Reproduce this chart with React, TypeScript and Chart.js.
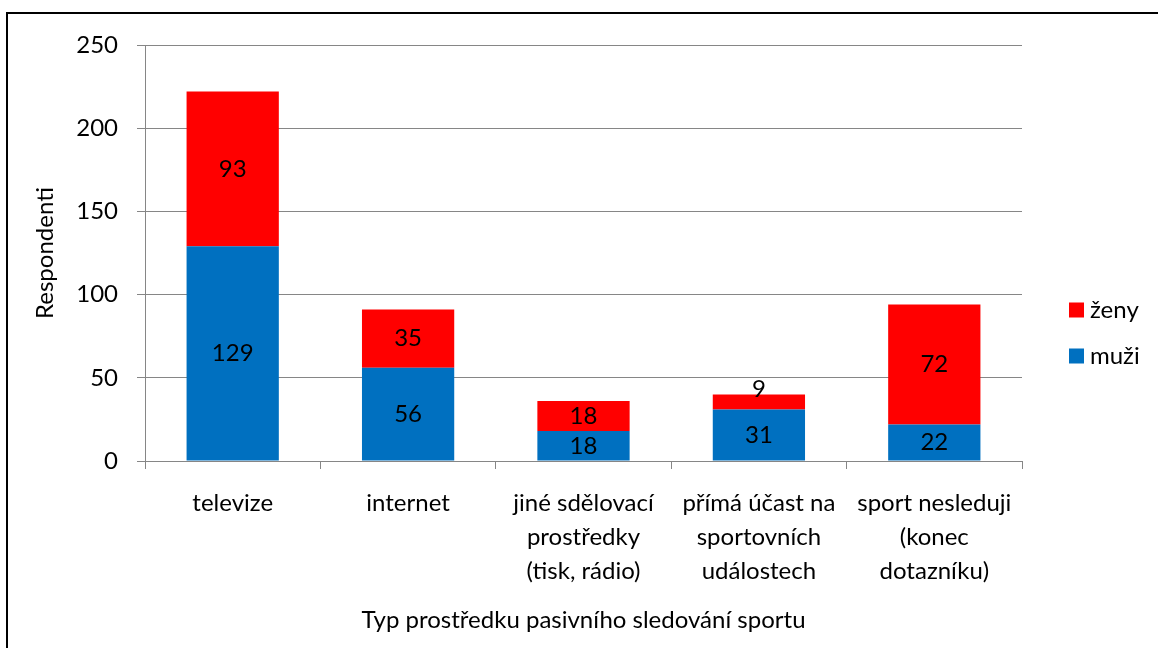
import React, { useEffect, useRef } from "react";
import { Chart, registerables } from "chart.js";

Chart.register(...registerables);

const categories: string[][] = [
  ["televize"],
  ["internet"],
  ["jiné sdělovací", "prostředky", "(tisk, rádio)"],
  ["přímá účast na", "sportovních", "událostech"],
  ["sport nesleduji", "(konec", "dotazníku)"],
];
const muzi: number[] = [129, 56, 18, 31, 22];
const zeny: number[] = [93, 35, 18, 9, 72];
const seriesNames = { muzi: "muži", zeny: "ženy" };
const yTitle = "Respondenti";
const xTitle = "Typ prostředku pasivního sledování sportu";

const FONT = "Lato, 'Open Sans', sans-serif";
const FS = 24;
const GRID = "#868686";

const labelPlugin = {
  id: "segLabels",
  afterDatasetsDraw(chart: any) {
    const ctx = chart.ctx;
    ctx.save();
    ctx.font = `${FS}px ${FONT}`;
    ctx.fillStyle = "#000";
    ctx.textAlign = "center";
    ctx.textBaseline = "middle";
    chart.data.datasets.forEach((ds: any, di: number) => {
      const meta = chart.getDatasetMeta(di);
      meta.data.forEach((bar: any, i: number) => {
        const v = ds.data[i];
        const h = Math.abs(bar.base - bar.y);
        // very short segments: label is pushed up so it sits over the top edge
        const cy = h < 20 ? bar.y - 5 : (bar.y + bar.base) / 2;
        ctx.fillText(String(v), bar.x, cy);
      });
    });
    ctx.restore();
  },
};

const legendPlugin = {
  id: "sideLegend",
  afterDraw(chart: any) {
    const ctx = chart.ctx;
    const area = chart.chartArea;
    const items = [...chart.data.datasets].reverse();
    const x0 = area.right + 47;
    const midY = (area.top + area.bottom) / 2 + 80;
    const gap = 46;
    ctx.save();
    ctx.font = `${FS}px ${FONT}`;
    ctx.textBaseline = "middle";
    ctx.textAlign = "left";
    items.forEach((ds: any, i: number) => {
      const cy = midY - gap / 2 + i * gap;
      ctx.fillStyle = ds.backgroundColor;
      ctx.fillRect(x0, cy - 7.5, 15, 15);
      ctx.fillStyle = "#000";
      ctx.fillText(ds.label, x0 + 21, cy);
    });
    ctx.restore();
  },
};

export default function App() {
  const ref = useRef<HTMLCanvasElement>(null);
  useEffect(() => {
    const canvas = ref.current!;
    const chart = new Chart(canvas, {
      type: "bar",
      data: {
        labels: categories,
        datasets: [
          {
            label: seriesNames.muzi,
            data: muzi,
            backgroundColor: "#0070C0",
            borderWidth: 0,
            categoryPercentage: 1,
            barPercentage: 0.526,
          },
          {
            label: seriesNames.zeny,
            data: zeny,
            backgroundColor: "#FF0000",
            borderWidth: 0,
            categoryPercentage: 1,
            barPercentage: 0.526,
          },
        ],
      },
      options: {
        responsive: false,
        animation: false,
        devicePixelRatio: 1,
        layout: { padding: { top: 45, right: 136, bottom: 0, left: 0 } },
        plugins: {
          legend: { display: false },
          tooltip: { enabled: false },
        },
        scales: {
          x: {
            stacked: true,
            offset: true,
            grid: {
              display: true,
              drawOnChartArea: false,
              drawTicks: true,
              tickLength: 8,
              offset: true,
              color: GRID,
            },
            border: { display: true, color: GRID },
            ticks: {
              color: "#000",
              font: { family: FONT, size: FS, lineHeight: 34 / FS },
              padding: 17,
              maxRotation: 0,
              autoSkip: false,
            },
            title: {
              display: true,
              text: xTitle,
              color: "#000",
              font: { family: FONT, size: FS, lineHeight: 1.2 },
              padding: { top: 0, bottom: 13 },
            },
            afterFit(scale: any) {
              scale.height = 187;
            },
          },
          y: {
            stacked: true,
            min: 0,
            max: 250,
            ticks: {
              stepSize: 50,
              color: "#000",
              font: { family: FONT, size: FS },
              padding: 19,
            },
            grid: { color: GRID, tickLength: 8, drawTicks: true },
            border: { display: true, color: GRID },
            title: {
              display: true,
              text: yTitle,
              color: "#000",
              font: { family: FONT, size: FS, lineHeight: 1.2 },
              padding: { top: 31, bottom: 0 },
            },
            afterFit(scale: any) {
              scale.width = 145;
            },
          },
        },
      },
      plugins: [labelPlugin, legendPlugin],
    });
    return () => chart.destroy();
  }, []);
  return (
    <div>
      <canvas
        ref={ref}
        width={1158}
        height={648}
        style={{ position: "fixed", left: 0, top: 0, width: 1158, height: 648 }}
      />
      <div
        style={{
          position: "fixed",
          left: 6,
          top: 12,
          width: 1200,
          height: 700,
          borderLeft: "2px solid #000",
          borderTop: "2px solid #000",
          pointerEvents: "none",
        }}
      />
    </div>
  );
}
